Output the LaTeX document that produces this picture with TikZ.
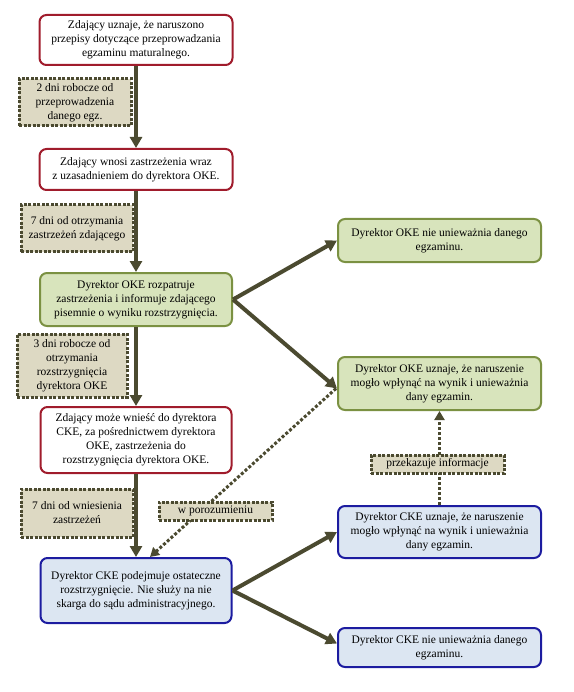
\documentclass[tikz,border=0pt]{standalone}
\usepackage{fontspec}
\setmainfont{Liberation Serif}
\usetikzlibrary{arrows.meta,calc}
\definecolor{okered}{HTML}{A01C2C}
\definecolor{okegreen}{HTML}{7B9142}
\definecolor{greenfill}{HTML}{D8E4BC}
\definecolor{ckeblue}{HTML}{1C1CA0}
\definecolor{bluefill}{HTML}{DCE6F2}
\definecolor{notefill}{HTML}{DDD9C3}
\definecolor{flowc}{HTML}{4B4A30}
\tikzset{
  box/.style={line width=2pt, rounded corners=7pt, align=center, inner sep=2pt, font=\fontsize{11.5}{14}\selectfont},
  redbox/.style={box, draw=okered, fill=white},
  greenbox/.style={box, draw=okegreen, fill=greenfill},
  bluebox/.style={box, draw=ckeblue, fill=bluefill},
  note/.style={draw=flowc, fill=notefill, line width=3pt, dash pattern=on 3pt off 1.5pt, align=center, inner sep=1pt, font=\fontsize{11.5}{14}\selectfont},
  flow/.style={draw=flowc, line width=4pt, -{Triangle[length=11pt,width=12pt]}},
  dotflow/.style={draw=flowc, line width=3pt, dash pattern=on 3pt off 2pt, -{Triangle[length=9pt,width=10pt]}}
}
\begin{document}
\begin{tikzpicture}[x=1pt,y=-1pt]
\useasboundingbox (0,0) rectangle (573,692);
% left column
\node[redbox, minimum width=193, minimum height=50] (b1) at (136,40) {Zdający uznaje, że naruszono\\przepisy dotyczące przeprowadzania\\egzaminu maturalnego.};
\node[redbox, minimum width=193, minimum height=41] (b2) at (136,169.5) {Zdający wnosi zastrzeżenia wraz\\z uzasadnieniem do dyrektora OKE.};
\node[greenbox, minimum width=192, minimum height=53] (b3) at (136,299.5) {Dyrektor OKE rozpatruje\\zastrzeżenia i informuje zdającego\\pisemnie o wyniku rozstrzygnięcia.};
\node[redbox, minimum width=191, minimum height=66] (b4) at (136,440) {Zdający może wnieść do dyrektora\\CKE, za pośrednictwem dyrektora\\OKE, zastrzeżenia do\\rozstrzygnięcia dyrektora OKE.};
\node[bluebox, minimum width=191, minimum height=65] (b5) at (136,590.5) {Dyrektor CKE podejmuje ostateczne\\rozstrzygnięcie. Nie służy na nie\\skarga do sądu administracyjnego.};
% right column
\node[greenbox, minimum width=203, minimum height=43] (b6) at (439.5,240.5) {Dyrektor OKE nie unieważnia danego\\egzaminu.};
\node[greenbox, minimum width=203, minimum height=53] (b7) at (439.5,383.5) {Dyrektor OKE uznaje, że naruszenie\\mogło wpłynąć na wynik i unieważnia\\dany egzamin.};
\node[bluebox, minimum width=203, minimum height=52] (b8) at (439.5,532) {Dyrektor CKE uznaje, że naruszenie\\mogło wpłynąć na wynik i unieważnia\\dany egzamin.};
\node[bluebox, minimum width=203, minimum height=39] (b9) at (439.5,647.5) {Dyrektor CKE nie unieważnia danego\\egzaminu.};
% arrows
\draw[flow] (b1) -- (b2); \draw[flow] (b2) -- (b3); \draw[flow] (b3) -- (b4); \draw[flow] (b4) -- (b5);
\draw[flow] (b3.east) -- (b6.west); \draw[flow] (b3.east) -- ($(b7.west)+(0,5)$);
\draw[flow] (b5.east) -- (b8.west); \draw[flow] (b5.east) -- ($(b9.west)+(0,-4)$);
\draw[dotflow] ($(b7.west)+(-1,5)$) -- ($(b5.north)+(14,0)$);
\draw[dotflow] (b8.north) -- (b7.south);
% time notes
\node[note, minimum width=112, minimum height=47] (n1) at (75,102.5) {2 dni robocze od\\przeprowadzenia\\danego egz.};
\node[note, minimum width=112, minimum height=47] (n2) at (77,228.5) {7 dni od otrzymania\\zastrzeżeń zdającego};
\node[note, minimum width=110, minimum height=63] (n3) at (72,365.5) {3 dni robocze od\\otrzymania\\rozstrzygnięcia\\dyrektora OKE};
\node[note, minimum width=112, minimum height=48] (n4) at (77,513) {7 dni od wniesienia\\zastrzeżeń};
\node[note, minimum width=113, minimum height=18] (n5) at (215.5,511) {w porozumieniu};
\node[note, minimum width=133, minimum height=18] (n6) at (437.5,464) {przekazuje informacje};
\end{tikzpicture}
\end{document}
